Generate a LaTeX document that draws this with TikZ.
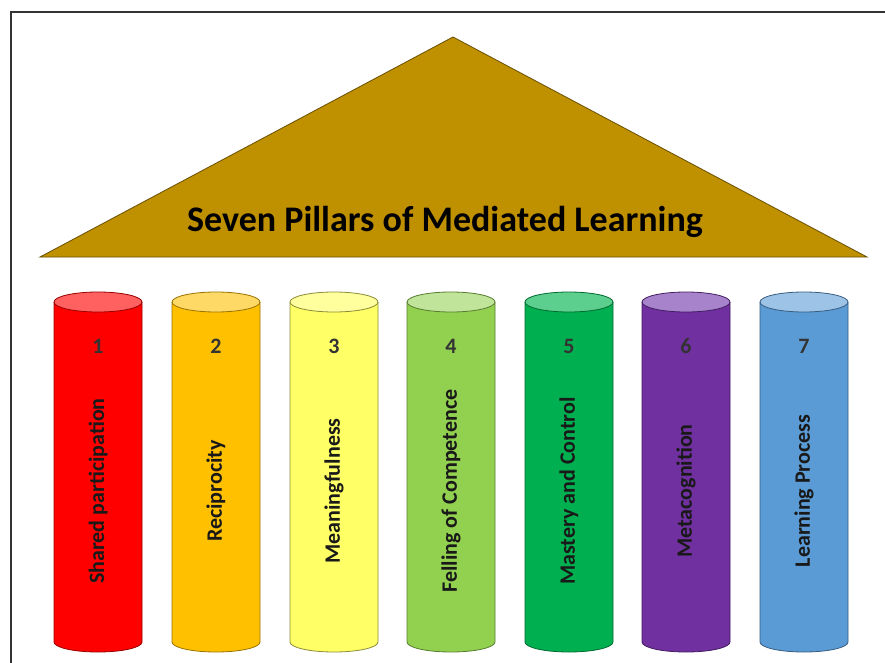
\documentclass[tikz,border=0pt]{standalone}
\usepackage{fontspec}
\setmainfont{Carlito}
\usepackage{tikz}

\definecolor{roofgold}{HTML}{BF9000}
\definecolor{pa}{HTML}{FF0000}
\definecolor{pat}{HTML}{FF6161}
\definecolor{pb}{HTML}{FFC000}
\definecolor{pbt}{HTML}{FFD966}
\definecolor{pc}{HTML}{FFFF66}
\definecolor{pct}{HTML}{FFFF9E}
\definecolor{pd}{HTML}{92D050}
\definecolor{pdt}{HTML}{C0E59A}
\definecolor{pe}{HTML}{00B050}
\definecolor{pet}{HTML}{5CCF8E}
\definecolor{pf}{HTML}{7030A0}
\definecolor{pft}{HTML}{A783CB}
\definecolor{pg}{HTML}{5B9BD5}
\definecolor{pgt}{HTML}{9DC3E6}

\tikzset{
	pillar/.style={line width=0.8pt, line join=round},
	num/.style={font=\fontsize{22}{24}\selectfont\bfseries, text=black!80},
	lbl/.style={rotate=90, font=\fontsize{22}{24}\selectfont\bfseries, text=black!90}
}

\begin{document}
\begin{tikzpicture}[x=1pt,y=-1pt]
			\useasboundingbox (0,0) rectangle (885,663);
			\clip (0,0) rectangle (885,663);
			\fill[white] (0,0) rectangle (885,663);
			\draw[line width=2pt, black!80] (11,12) rectangle (900,680);
			\draw[fill=roofgold, draw=roofgold!55!black, line width=0.8pt] (40,257)--(453,37)--(867,257)--cycle;
			\node (title) at (445,222) {\fontsize{36}{40}\selectfont\bfseries Seven Pillars of Mediated Learning};
			\draw[pillar, fill=pa, draw=pa!60!black] (54,302)--(54,642) arc[start angle=180, end angle=0, x radius=44, y radius=10]--(142,302);
			\draw[pillar, fill=pat, draw=pa!60!black] (98,302) ellipse [x radius=44, y radius=10];
			\draw[pillar, fill=pb, draw=pb!60!black] (172,302)--(172,642) arc[start angle=180, end angle=0, x radius=44, y radius=10]--(260,302);
			\draw[pillar, fill=pbt, draw=pb!60!black] (216,302) ellipse [x radius=44, y radius=10];
			\draw[pillar, fill=pc, draw=pc!55!black] (290,302)--(290,642) arc[start angle=180, end angle=0, x radius=44, y radius=10]--(378,302);
			\draw[pillar, fill=pct, draw=pc!55!black] (334,302) ellipse [x radius=44, y radius=10];
			\draw[pillar, fill=pd, draw=pd!60!black] (407,302)--(407,642) arc[start angle=180, end angle=0, x radius=44, y radius=10]--(495,302);
			\draw[pillar, fill=pdt, draw=pd!60!black] (451,302) ellipse [x radius=44, y radius=10];
			\draw[pillar, fill=pe, draw=pe!60!black] (525,302)--(525,642) arc[start angle=180, end angle=0, x radius=44, y radius=10]--(613,302);
			\draw[pillar, fill=pet, draw=pe!60!black] (569,302) ellipse [x radius=44, y radius=10];
			\draw[pillar, fill=pf, draw=pf!60!black] (642,302)--(642,642) arc[start angle=180, end angle=0, x radius=44, y radius=10]--(730,302);
			\draw[pillar, fill=pft, draw=pf!60!black] (686,302) ellipse [x radius=44, y radius=10];
			\draw[pillar, fill=pg, draw=pg!60!black] (760,302)--(760,642) arc[start angle=180, end angle=0, x radius=44, y radius=10]--(848,302);
			\draw[pillar, fill=pgt, draw=pg!60!black] (804,302) ellipse [x radius=44, y radius=10];
			\node[num] (n1) at (98,346) {1};
			\node[num] (n2) at (216,346) {2};
			\node[num] (n3) at (334,346) {3};
			\node[num] (n4) at (451,346) {4};
			\node[num] (n5) at (569,346) {5};
			\node[num] (n6) at (686,346) {6};
			\node[num] (n7) at (804,346) {7};
			\node[lbl] (l1) at (98,491) {Shared participation};
			\node[lbl] (l2) at (216,491) {Reciprocity};
			\node[lbl] (l3) at (334,491) {Meaningfulness};
			\node[lbl] (l4) at (451,491) {Felling of Competence};
			\node[lbl] (l5) at (569,491) {Mastery and Control};
			\node[lbl] (l6) at (686,491) {Metacognition};
			\node[lbl] (l7) at (804,491) {Learning Process};
\end{tikzpicture}
\end{document}
